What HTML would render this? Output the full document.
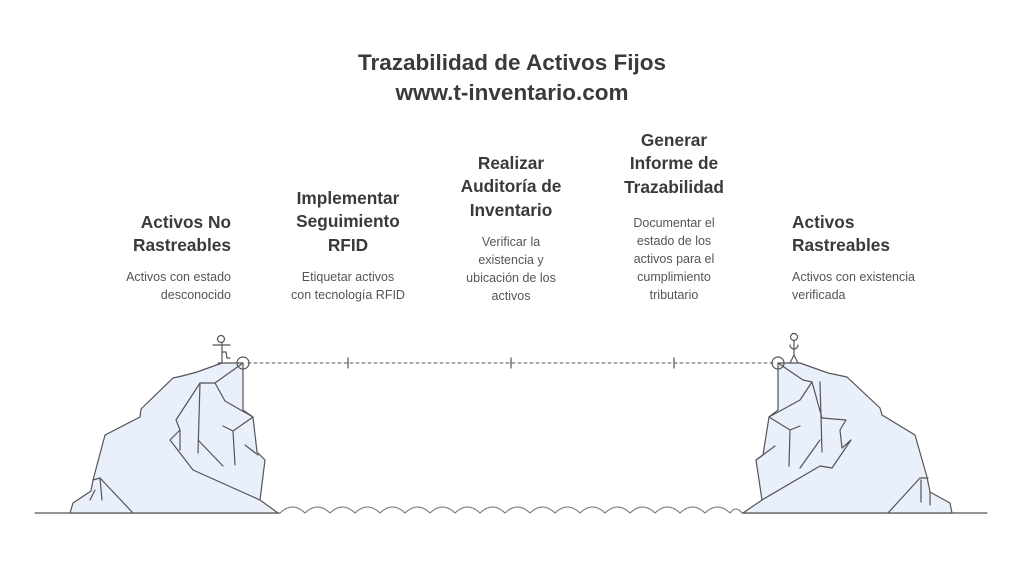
<!DOCTYPE html>
<html><head><meta charset="utf-8"><style>
body{margin:0;width:1024px;height:584px;background:#fff;position:relative;overflow:hidden;font-family:"Liberation Sans",Arial,sans-serif;color:#3a3a3a}
.t{position:absolute;left:0;width:1024px;text-align:center;font-weight:bold;font-size:22.5px;line-height:30px}
.h{position:absolute;font-weight:bold;font-size:17.3px;line-height:23.3px;color:#3a3a3a}
.d{position:absolute;font-size:12.5px;line-height:18px;color:#555}
.c{text-align:center;width:180px}
.r{text-align:right;width:200px}
.l{text-align:left;width:200px}
</style></head><body>
<div class="t" style="top:48px">Trazabilidad de Activos Fijos</div>
<div class="t" style="top:78px">www.t-inventario.com</div>

<div class="h r" style="left:31px;top:211px">Activos No<br>Rastreables</div>
<div class="d r" style="left:31px;top:268px">Activos con estado<br>desconocido</div>

<div class="h c" style="left:258px;top:187px">Implementar<br>Seguimiento<br>RFID</div>
<div class="d c" style="left:258px;top:268px">Etiquetar activos<br>con tecnología RFID</div>

<div class="h c" style="left:421px;top:152px">Realizar<br>Auditoría de<br>Inventario</div>
<div class="d c" style="left:421px;top:233px">Verificar la<br>existencia y<br>ubicación de los<br>activos</div>

<div class="h c" style="left:584px;top:129px">Generar<br>Informe de<br>Trazabilidad</div>
<div class="d c" style="left:584px;top:214px">Documentar el<br>estado de los<br>activos para el<br>cumplimiento<br>tributario</div>

<div class="h l" style="left:792px;top:211px">Activos<br>Rastreables</div>
<div class="d l" style="left:792px;top:268px">Activos con existencia<br>verificada</div>

<svg width="1024" height="584" style="position:absolute;left:0;top:0" fill="none" stroke="#555" stroke-width="1.2" stroke-linejoin="round" stroke-linecap="round">
<line x1="35" y1="513" x2="280" y2="513"/>
<line x1="742" y1="513" x2="987" y2="513"/>
<path stroke="#777" stroke-width="1.1" d="M280 513 q6.25 -6 12.5 -6 q6.25 0 12.5 6 q6.25 -6 12.5 -6 q6.25 0 12.5 6 q6.25 -6 12.5 -6 q6.25 0 12.5 6 q6.25 -6 12.5 -6 q6.25 0 12.5 6 q6.25 -6 12.5 -6 q6.25 0 12.5 6 q6.25 -6 12.5 -6 q6.25 0 12.5 6 q6.25 -6 12.5 -6 q6.25 0 12.5 6 q6.25 -6 12.5 -6 q6.25 0 12.5 6 q6.25 -6 12.5 -6 q6.25 0 12.5 6 q6.25 -6 12.5 -6 q6.25 0 12.5 6 q6.25 -6 12.5 -6 q6.25 0 12.5 6 q6.25 -6 12.5 -6 q6.25 0 12.5 6 q6.25 -6 12.5 -6 q6.25 0 12.5 6 q6.25 -6 12.5 -6 q6.25 0 12.5 6 q6.25 -6 12.5 -6 q6.25 0 12.5 6 q6.25 -6 12.5 -6 q6.25 0 12.5 6 q6.25 -6 12.5 -6 q6.25 0 12.5 6 q6.25 -6 12.5 -6 q6.25 0 12.5 6 q3 -4 6 -4 q3 0 6 4"/>
<line x1="248" y1="363" x2="773" y2="363" stroke-dasharray="3 3" stroke-width="1"/>
<line x1="348" y1="358" x2="348" y2="368"/>
<line x1="511" y1="358" x2="511" y2="368"/>
<line x1="674" y1="358" x2="674" y2="368"/>
<path fill="#e9effb" d="M70 513 L73 503 L91 491 L93 480 L105 435 L140 417 L141 409 L173 378 L182 376 L197 372 L222 363 L243 363 L243 410 L253 417 L257 452 L265 460 L260 500 L278 513 Z"/>
<path d="M243 363 L215 383 L200 383 L176 420 L180 430 L170 440 L193 470 L260 500 M200 383 L198 453 M180 430 L180 450 M215 383 L225 401 L253 417 M223 426 L233 431 L235 465 M233 431 L253 417 M245 445 L258 455 M198 440 L223 466 M100 478 L102 500 M93 480 L100 478 L133 513 M95 490 L90 500"/>
<circle cx="243" cy="363" r="6"/>
<circle cx="221" cy="339" r="3.5"/>
<path d="M213 345 L230 345 M222 343 L222 363 M222 352 L226 352 L227 358 L230 358 M218 363 L222 363"/>
<path fill="#e9effb" d="M743 513 L762 500 L756 460 L763 455 L769 417 L778 410 L778 363 L800 363 L828 373 L847 377 L880 408 L882 415 L915 435 L927 477 L930 492 L950 503 L952 513 Z"/>
<path d="M778 363 L803 380 L812 382 L800 400 L769 417 M812 382 L822 418 L846 420 L840 430 L842 448 L851 440 L832 468 L820 466 L762 500 M820 382 L822 452 M769 417 L790 430 L800 426 M790 430 L789 466 M775 446 L756 460 M800 468 L820 440 M888 513 L920 478 L928 478 M921 480 L921 502 M930 492 L930 505"/>
<circle cx="778" cy="363" r="6"/>
<circle cx="794" cy="337" r="3.5"/>
<path d="M794 341 L794 355 M790 345 A4 4 0 1 0 798 345 M794 355 L790 363 M794 355 L798 363"/>
</svg>
</body></html>
